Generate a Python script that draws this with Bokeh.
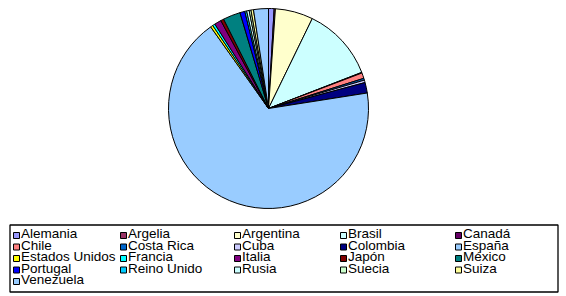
import numpy as np
from bokeh.plotting import figure
from bokeh.models import Range1d, ColumnDataSource
from bokeh.core.properties import value
from bokeh.embed import file_html
from bokeh.resources import INLINE

categories = ["Alemania", "Argelia", "Argentina", "Brasil", "Canadá", "Chile",
              "Costa Rica", "Cuba", "Colombia", "España", "Estados Unidos",
              "Francia", "Italia", "Japón", "México", "Portugal", "Reino Unido",
              "Rusia", "Suecia", "Suiza", "Venezuela"]
values = [0.9, 0.2, 6.1, 11.9, 0.1, 0.9, 0.3, 0.4, 1.7, 67.6, 0.4,
          0.4, 1.1, 0.5, 2.8, 0.8, 0.3, 0.4, 0.3, 0.4, 2.4]
colors = ["#9999FF", "#993366", "#FFFFCC", "#CCFFFF", "#660066", "#FF8080",
          "#0066CC", "#CCCCFF", "#000080", "#99CCFF", "#FFFF00", "#00FFFF",
          "#800080", "#800000", "#008080", "#0000FF", "#00CCFF", "#CCFFFF",
          "#CCFFCC", "#FFFF99", "#99CCFF"]

W, H = 566, 296
p = figure(width=W, height=H, x_range=Range1d(0, W), y_range=Range1d(0, H),
           output_backend="svg", toolbar_location=None, min_border=0)
p.axis.visible = False
p.grid.visible = False
p.outline_line_color = None
p.background_fill_color = "white"
p.border_fill_color = "white"

vals = np.array(values, dtype=float)
frac = vals / vals.sum()
cum = np.concatenate([[0.0], np.cumsum(frac)])
start = np.pi / 2 - cum[:-1] * 2 * np.pi
end = np.pi / 2 - cum[1:] * 2 * np.pi

cx, cy, r = 268, H - 108, 100
src = ColumnDataSource(dict(start=start, end=end, color=colors))
p.wedge(x=cx, y=cy, radius=r, start_angle="start", end_angle="end",
        direction="clock", fill_color="color", line_color="black",
        line_width=1, source=src)

# legend box
p.quad(left=9.5, right=557.5, top=H - 224.5, bottom=H - 291.5,
       fill_color="white", line_color="black", line_width=1.3)

col_x = [16, 123, 237, 343, 458]
row_y = [235, 246.5, 258, 269.5, 281]
lx, ly, tx, ty = [], [], [], []
for i, name in enumerate(categories):
    c, rr = i % 5, i // 5
    lx.append(col_x[c])
    ly.append(H - row_y[rr])
    tx.append(col_x[c] + 4.5)
    ty.append(H - row_y[rr] + 1.8)
lsrc = ColumnDataSource(dict(x=lx, y=ly, tx=tx, ty=ty, color=colors, name=categories))
p.rect(x="x", y="y", width=6, height=6, fill_color="color", line_color="black",
       line_width=1, source=lsrc)
p.text(x="tx", y="ty", text="name", text_font=value("Liberation Sans"),
       text_font_size="13.5px", text_baseline="middle", text_align="left",
       text_color="black", source=lsrc)

open("out.html", "w").write(file_html(p, INLINE))
